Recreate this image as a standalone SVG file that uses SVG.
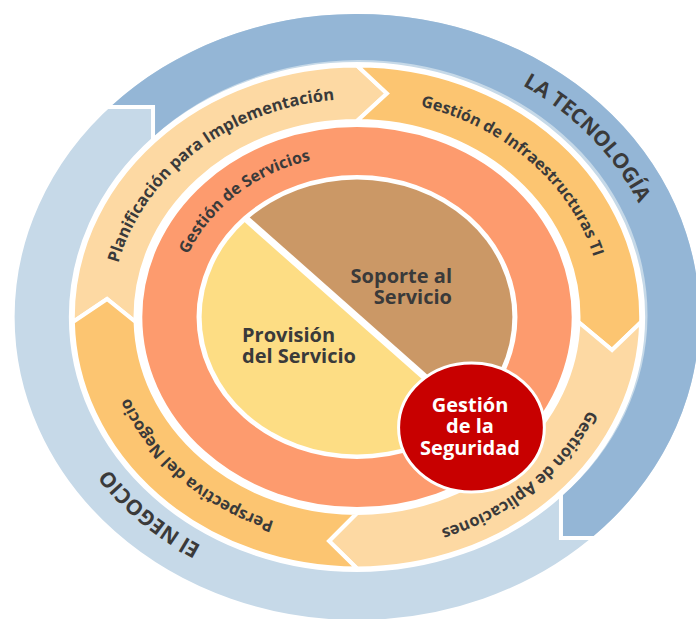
<svg xmlns="http://www.w3.org/2000/svg" width="696" height="619" viewBox="0 0 696 619">
<style>
.sep{fill:none;stroke:#fff;stroke-width:4;vector-effect:non-scaling-stroke;stroke-linejoin:miter}
.seg{stroke:#fff;stroke-width:4;vector-effect:non-scaling-stroke;stroke-linejoin:miter}
.t{font-family:"Open Sans","DejaVu Sans",sans-serif;font-weight:700;fill:#3a3a3a}
.big{font-size:21px}
.mid{font-size:16.5px}
.sm{font-size:16px}
.ctr{font-size:20px}
.wht{fill:#fff}
</style>
<defs>
<path id="pTec" d="M309.6 46.2 A309.6 274 0 0 1 645.6 416.1"/>
<path id="pNeg" d="M431.5 575.7 A301.7 267 0 0 1 66.6 244.7"/>
<path id="pInf" d="M298.5 105.3 A246.3 218 0 0 1 593.5 378"/>
<path id="pApl" d="M603.1 260.7 A254.25 225 0 0 1 289.1 533.8"/>
<path id="pPer" d="M416.3 527.6 A245.2 217 0 0 1 121.3 257.2"/>
<path id="pPla" d="M116 362 A246.3 218 0 0 1 433.5 109.8"/>
<path id="pSer" d="M178.5 353.2 A183.1 162 0 0 1 410.8 162.2"/>
</defs>
<rect width="696" height="619" fill="#fff"/>
<g transform="translate(357 317) scale(1.13 1)">
  <g id="el-negocio">
    <circle r="279" fill="none" stroke="#C6D9E8" stroke-width="48"/>
  </g>
  <g id="la-tecnologia">
    <path d="M-218.4 -210 A303 303 0 1 1 207.3 221 L180.5 221 L180.5 180.1 A255 255 0 1 0 -180.5 -180.1 L-180.5 -210 Z" fill="#94B6D6"/>
    <path class="sep" d="M-226 -210 H-180.5 V-177 M214 221 H180.5 V177"/>
  </g>
  <g id="planificacion">
    <path class="seg" fill="#FDD9A3" d="M-251.45 5 A251.5 251.5 0 0 1 0 -251.5 L26.5 -223.5 L0 -196 A196 196 0 0 0 -195.94 5 L-221.2 -18 Z"/>
  </g>
  <g id="infraestructuras">
    <path class="seg" fill="#FCC571" d="M0 -251.5 A251.5 251.5 0 0 1 251.45 5 L225.7 33 L195.94 5 A196 196 0 0 0 0 -196 L26.5 -223.5 Z"/>
  </g>
  <g id="aplicaciones">
    <path class="seg" fill="#FDD9A3" d="M251.45 5 A251.5 251.5 0 0 1 0 251.5 L-24.8 224 L0 196 A196 196 0 0 0 195.94 5 L225.7 33 Z"/>
  </g>
  <g id="perspectiva">
    <path class="seg" fill="#FCC571" d="M0 251.5 A251.5 251.5 0 0 1 -251.45 5 L-221.2 -18 L-195.94 5 A196 196 0 0 0 0 196 L-24.8 224 Z"/>
  </g>
  <g id="gestion-servicios">
    <circle r="166" fill="none" stroke="#FD9B6E" stroke-width="48"/>
  </g>
  <g id="soporte">
    <path d="M-97.23 -97.23 A137.5 137.5 0 0 1 97.23 97.23 Z" fill="#CB9866"/>
  </g>
  <g id="provision">
    <path d="M97.23 97.23 A137.5 137.5 0 0 1 -97.23 -97.23 Z" fill="#FDDD84"/>
  </g>
  <path class="sep" d="M-99 -99 L99 99" style="stroke-width:7"/>
  <g id="seguridad">
    <circle cx="101.3" cy="110.5" r="64.5" fill="#C80000" stroke="#fff" stroke-width="3" vector-effect="non-scaling-stroke"/>
  </g>
</g>
<g id="labels">
  <text class="t big"><textPath href="#pTec" startOffset="50%" text-anchor="middle">LA TECNOLOGÍA</textPath></text>
  <text class="t big"><textPath href="#pNeg" startOffset="50%" text-anchor="middle">El NEGOCIO</textPath></text>
  <text class="t sm"><textPath href="#pInf" startOffset="50%" text-anchor="middle">Gestión de Infraestructuras TI</textPath></text>
  <text class="t mid"><textPath href="#pApl" startOffset="50%" text-anchor="middle">Gestión de Aplicaciones</textPath></text>
  <text class="t mid"><textPath href="#pPer" startOffset="50%" text-anchor="middle">Perspectiva del Negocio</textPath></text>
  <text class="t mid"><textPath href="#pPla" startOffset="50%" text-anchor="middle">Planificación para Implementación</textPath></text>
  <text class="t sm"><textPath href="#pSer" startOffset="50%" text-anchor="middle">Gestión de Servicios</textPath></text>
  <text class="t ctr" text-anchor="end"><tspan x="452" y="283">Soporte al</tspan><tspan x="452" y="304">Servicio</tspan></text>
  <text class="t ctr"><tspan x="242" y="342">Provisión</tspan><tspan x="242" y="363">del Servicio</tspan></text>
  <text class="t ctr wht" text-anchor="middle"><tspan x="470" y="412">Gestión</tspan><tspan x="470" y="433">de la</tspan><tspan x="470" y="455">Seguridad</tspan></text>
</g>
</svg>
